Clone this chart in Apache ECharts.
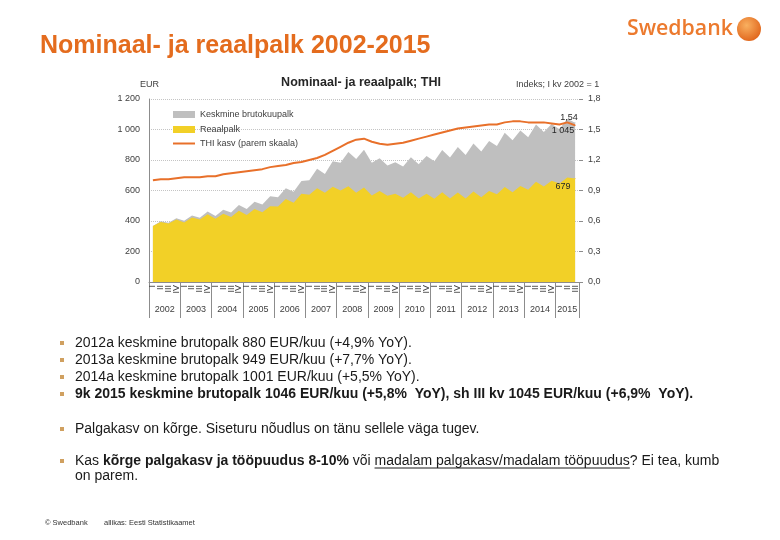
<!DOCTYPE html>
<html><head><meta charset="utf-8">
<script src="https://cdn.jsdelivr.net/npm/echarts@6/dist/echarts.min.js"></script>
<style>html,body{margin:0;padding:0;background:#fff}#c{width:780px;height:540px}</style>
</head><body><div id="c"></div>
<script>
// ---------- data ----------
const yearLabels = ['2002','2003','2004','2005','2006','2007','2008','2009','2010','2011','2012','2013','2014','2015'];
const quartersPerYear = [4,4,4,4,4,4,4,4,4,4,4,4,4,3];
const quarterNames = ['I','II','III','IV'];
// Keskmine brutokuupalk, EUR (quarterly)
const nominalWage = [
  368,398,388,418, 402,436,422,462, 432,474,456,505, 478,526,508,562,
  556,614,592,662, 668,742,708,792, 782,852,806,868, 782,812,764,786,
  758,818,772,826, 792,866,816,886, 832,908,856,924, 892,978,930,994,
  950,1032,984,1036, 1002,1070,1045];
// Reaalpalk, EUR
const realWage = [
  368,394,384,410, 390,423,410,444, 415,447,426,468, 439,478,458,497,
  495,545,520,578, 572,615,585,625, 600,628,585,620, 567,597,566,578,
  553,588,548,578, 546,589,548,587, 547,593,556,596, 575,623,589,629,
  605,657,627,664, 646,686,679];
// THI indeks (I kv 2002 = 1)
const cpiIndex = [
  1.00,1.01,1.01,1.02, 1.03,1.03,1.03,1.04, 1.04,1.06,1.07,1.08, 1.09,1.10,1.11,1.13,
  1.14,1.15,1.17,1.18, 1.20,1.22,1.25,1.29, 1.33,1.37,1.40,1.41, 1.38,1.36,1.35,1.36,
  1.37,1.39,1.41,1.43, 1.45,1.47,1.49,1.51, 1.52,1.53,1.54,1.55, 1.55,1.57,1.58,1.58,
  1.57,1.57,1.57,1.56, 1.55,1.57,1.54];
const seriesNames = ['Keskmine brutokuupalk','Reaalpalk','THI kasv (parem skaala)'];
const bulletLines = [
  [{t:'2012a keskmine brutopalk 880 EUR/kuu (+4,9% YoY).'}],
  [{t:'2013a keskmine brutopalk 949 EUR/kuu (+7,7% YoY).'}],
  [{t:'2014a keskmine brutopalk 1001 EUR/kuu (+5,5% YoY).'}],
  [{t:'9k 2015 keskmine brutopalk 1046 EUR/kuu (+5,8%  YoY), sh III kv 1045 EUR/kuu (+6,9%  YoY).', b:true}],
  [{t:'Palgakasv on kõrge. Siseturu nõudlus on tänu sellele väga tugev.'}],
  [{t:'Kas '},{t:'kõrge palgakasv ja tööpuudus 8-10%', b:true},{t:' või '},{t:'madalam palgakasv/madalam tööpuudus', u:true},{t:'? Ei tea, kumb'}],
  [{t:'on parem.'}]
];

// ---------- build ----------
const categories = [];
yearLabels.forEach((y,i)=>{ for(let q=0;q<quartersPerYear[i];q++) categories.push(y+' '+quarterNames[q]); });
const nCat = categories.length;
const yearCenter = {};
let acc = 0;
yearLabels.forEach((y,i)=>{ yearCenter[String(acc + quartersPerYear[i]/2)] = y; acc += quartersPerYear[i]; });

const FAM = '"Liberation Sans", Arial, sans-serif';
const labelStyle = {fontSize:9, color:'#262626', fontFamily:FAM};
function withLastLabel(arr, label, color){
  return arr.map((v,i)=> i===arr.length-1 ? {value:v, symbol:'circle', symbolSize:1, itemStyle:{color}, label:Object.assign({show:true}, label)} : v);
}
const thou = v => String(v).replace(/\B(?=(\d{3})+(?!\d))/g,' ');

const mctx = document.createElement('canvas').getContext('2d');
function tw(txt, font){ mctx.font = font; return mctx.measureText(txt).width; }

const graphics = [];
graphics.push({type:'text', x:40, y:46, style:{text:'Nominaal- ja reaalpalk 2002-2015', font:'bold 25px '+FAM, fill:'#e46c1e', textVerticalAlign:'middle'}});
const logoFont0 = '600 22px "Open Sans"';
const logoSize = Math.min(26, 22*106/tw('Swedbank', logoFont0));
graphics.push({type:'text', x:627, y:29, style:{text:'Swedbank', font:'600 '+logoSize.toFixed(1)+'px "Open Sans", '+FAM, fill:'#ec7a2e', textVerticalAlign:'middle'}});
graphics.push({type:'circle', shape:{cx:749, cy:29, r:12}, style:{fill:new echarts.graphic.RadialGradient(0.4,0.35,0.7,[{offset:0,color:'#f9b060'},{offset:1,color:'#e0641a'}])}});
graphics.push({type:'text', x:361, y:83, style:{text:'Nominaal- ja reaalpalk; THI', font:'bold 12.5px '+FAM, fill:'#262626', textAlign:'center', textVerticalAlign:'middle'}});
graphics.push({type:'text', x:140, y:85, style:{text:'EUR', font:'9px '+FAM, fill:'#404040', textVerticalAlign:'middle'}});
graphics.push({type:'text', x:516, y:85, style:{text:'Indeks; I kv 2002 = 1', font:'9px '+FAM, fill:'#404040', textVerticalAlign:'middle'}});
const lineY = [343,360,377,394,429,461,476];
const bulletOn = [true,true,true,true,true,true,false];
const FS = 14;
bulletLines.forEach((segs, li)=>{
  const y = lineY[li];
  if (bulletOn[li]) graphics.push({type:'rect', shape:{x:60, y:y-2, width:4, height:4}, style:{fill:'#d0a060'}});
  let x = 75;
  segs.forEach(s=>{
    const font = (s.b?'bold ':'') + FS + 'px ' + FAM;
    graphics.push({type:'text', x, y, style:{text:s.t, font, fill:'#1a1a1a', textVerticalAlign:'middle'}});
    const w = tw(s.t, font);
    if (s.u) graphics.push({type:'line', shape:{x1:x, y1:y+7, x2:x+w, y2:y+7}, style:{stroke:'#1a1a1a', lineWidth:1}});
    x += w;
  });
});
graphics.push({type:'text', x:45, y:523, style:{text:'© Swedbank', font:'7.5px '+FAM, fill:'#333', textVerticalAlign:'middle'}});
graphics.push({type:'text', x:104, y:523, style:{text:'allikas: Eesti Statistikaamet', font:'7.5px '+FAM, fill:'#333', textVerticalAlign:'middle'}});

const legendText = {fontSize:9, color:'#404040', fontFamily:FAM, lineHeight:11};
const chart = echarts.init(document.getElementById('c'), null, {renderer:'canvas'});
chart.setOption({
  animation:false,
  backgroundColor:'#fff',
  grid:{left:149, right:201, top:99, bottom:258, containLabel:false},
  legend:[{
    orient:'vertical', left:173, top:109, padding:0, itemGap:4, itemWidth:22, itemHeight:7,
    textStyle:legendText, data:[{name:seriesNames[0], icon:'rect'},{name:seriesNames[1], icon:'rect'}]
  },{
    orient:'vertical', left:173, top:138, padding:0, itemWidth:22, itemHeight:2,
    textStyle:legendText, data:[{name:seriesNames[2], icon:'rect'}]
  }],
  xAxis:[{
    type:'category', data:categories, boundaryGap:true,
    axisLine:{show:true, lineStyle:{color:'#8c8c8c', width:1}},
    axisTick:{show:true, length:36, interval:(i)=> i%4===0, lineStyle:{color:'#8c8c8c'}},
    axisLabel:{interval:0, rotate:90, margin:3, fontSize:9, color:'#404040', fontFamily:FAM, formatter:v=>v.split(' ')[1]}
  },{
    type:'value', min:0, max:nCat, interval:0.5, position:'bottom',
    axisLine:{show:false}, axisTick:{show:false}, splitLine:{show:false},
    axisLabel:{margin:23, fontSize:9, color:'#404040', fontFamily:FAM, showMinLabel:true, showMaxLabel:true, formatter:v=> yearCenter[String(v)] || ''}
  }],
  yAxis:[{
    type:'value', min:0, max:1200, interval:200,
    axisLine:{show:true, lineStyle:{color:'#8c8c8c'}}, axisTick:{show:false},
    axisLabel:{margin:9, fontSize:9, color:'#404040', fontFamily:FAM, formatter:thou},
    splitLine:{show:true, lineStyle:{type:'dotted', color:'#c4c4c4'}}
  },{
    type:'value', min:0, max:1.8, interval:0.3, position:'right',
    axisLine:{show:false}, axisTick:{show:true, length:4, lineStyle:{color:'#8c8c8c'}},
    axisLabel:{margin:9, fontSize:9, color:'#404040', fontFamily:FAM, formatter:v=>v.toFixed(1).replace('.',',')},
    splitLine:{show:false}
  }],
  series:[{
    name:seriesNames[0], type:'line', xAxisIndex:0, yAxisIndex:0, symbol:'none', showAllSymbol:true,
    itemStyle:{color:'#bfbfbf'}, lineStyle:{width:0}, areaStyle:{color:'#bfbfbf', opacity:1},
    data:withLastLabel(nominalWage, Object.assign({position:'bottom', distance:3, offset:[-12,0], formatter:p=>thou(p.value)}, labelStyle), '#bfbfbf'),
    z:2
  },{
    name:seriesNames[1], type:'line', xAxisIndex:0, yAxisIndex:0, symbol:'none', showAllSymbol:true,
    itemStyle:{color:'#f2d027'}, lineStyle:{width:0}, areaStyle:{color:'#f2d027', opacity:1},
    data:withLastLabel(realWage, Object.assign({position:'bottom', distance:3, offset:[-12,0]}, labelStyle), '#f2d027'),
    z:3
  },{
    name:seriesNames[2], type:'line', xAxisIndex:0, yAxisIndex:1, symbol:'none', showAllSymbol:true,
    itemStyle:{color:'#e8702a'}, lineStyle:{width:2, color:'#e8702a'},
    data:withLastLabel(cpiIndex, Object.assign({position:'top', distance:3, offset:[-6,0], formatter:p=>p.value.toFixed(2).replace('.',',')}, labelStyle), '#e8702a'),
    z:4
  }],
  graphic:graphics
});
</script></body></html>
